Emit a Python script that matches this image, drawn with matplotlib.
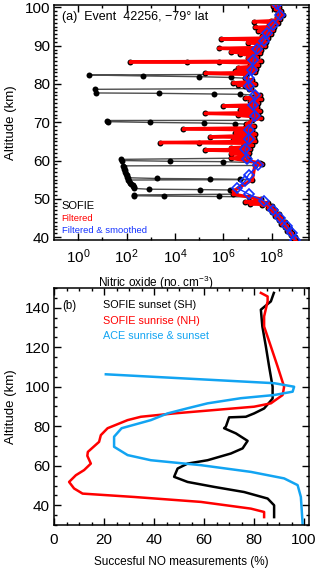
import numpy as np
import matplotlib
matplotlib.use("Agg")
import matplotlib.pyplot as plt
from matplotlib.ticker import FixedLocator, MultipleLocator, LogFormatterSciNotation, NullFormatter

plt.rcParams['font.family'] = ['Liberation Sans', 'DejaVu Sans']
plt.rcParams['mathtext.fontset'] = 'custom'
plt.rcParams['mathtext.rm'] = 'Liberation Sans'

# ---- panel (a): SOFIE event 42256, values as (altitude km, log10 NO) ----
main_alt = [101.0, 100.5, 100.0, 99.5, 99.0, 98.5, 98.0, 97.5, 97.0, 96.5, 96.0, 95.5, 95.0,
            94.5, 94.0, 93.5, 93.0, 92.5, 92.0, 91.5, 91.0, 90.5, 90.0, 89.5, 89.0, 88.5,
            88.0, 87.5, 87.0, 86.5, 86.0, 85.5, 85.0, 84.5, 84.0, 83.5, 83.0, 82.5, 81.5,
            81.0, 80.5, 80.0, 79.5, 79.0, 78.8, 77.0, 76.5, 76.0, 75.5, 75.0, 74.5, 74.0,
            73.5, 73.0, 72.5, 72.0, 71.5, 71.0, 70.5, 69.5, 69.0, 68.5, 68.0, 67.5, 67.0,
            66.5, 66.0, 65.5, 65.0, 64.5, 64.0, 63.5, 63.0, 62.5, 62.0, 61.5, 61.0, 60.6,
            59.4, 59.0, 58.7, 55.0, 52.0, 51.6, 51.2, 50.5, 50.0, 49.5, 49.0, 48.5, 48.0,
            47.5, 47.0, 46.5, 46.0, 45.5, 45.0, 44.5, 44.0, 43.5, 43.0, 42.5, 42.0, 41.5,
            41.0, 40.5, 40.0, 39.5, 39.0]
main_log = [8.20, 8.05, 8.30, 8.15, 8.40, 8.25, 8.45, 8.20, 8.35, 7.95, 8.25, 7.90, 8.10,
            7.80, 8.05, 7.70, 7.95, 7.60, 7.85, 7.50, 7.75, 7.45, 7.70, 7.30, 7.55, 7.20,
            7.50, 7.15, 7.40, 7.30, 7.55, 7.10, 7.45, 7.05, 7.35, 7.00, 7.30, 6.95, 6.90,
            7.20, 6.95, 7.30, 6.90, 7.15, 7.05, 7.50, 7.25, 7.55, 7.10, 7.45, 7.15, 7.40,
            7.10, 7.50, 7.20, 7.45, 7.15, 7.55, 7.20, 6.95, 7.25, 6.90, 7.20, 6.95, 7.30,
            6.85, 7.25, 6.95, 7.30, 6.90, 7.20, 6.80, 7.10, 6.75, 7.05, 6.85, 7.00, 6.30,
            7.50, 7.60, 7.30, 7.20, 6.40, 6.50, 6.40, 7.04, 7.55, 7.40, 7.85, 7.60, 8.00,
            7.85, 8.15, 8.00, 8.30, 8.15, 8.40, 8.30, 8.55, 8.40, 8.65, 8.55, 8.75, 8.65,
            8.85, 8.80, 8.95, 8.90, 9.00]

# spikes kept by the filter (shown red)
red_alt = [96.3, 94.8, 93.8, 91.8, 90.8, 89.3, 88.3, 87.8, 86.8, 85.85, 85.8, 85.7, 84.3,
           83.3, 82.8, 80.3, 79.8, 76.3, 74.3, 73.3, 72.3, 71.8, 68.3, 67.3, 66.2, 65.3,
           64.7, 64.6, 63.3, 62.7, 61.8, 49.2, 48.7]
red_log = [7.25, 7.30, 7.45, 5.90, 7.00, 5.80, 6.30, 6.70, 7.00, 4.50, 2.15, 5.80, 6.60,
           6.50, 5.25, 6.40, 6.60, 6.90, 6.00, 6.70, 5.25, 6.60, 4.35, 6.50, 5.45, 6.40,
           3.39, 5.00, 6.30, 5.25, 6.30, 6.90, 7.10]

# spikes removed by the filter (black only)
blk_alt = [82.35, 82.1, 81.9, 81.7, 78.6, 77.65, 77.55, 77.4, 77.3, 70.45, 70.15, 69.95,
           69.8, 69.65, 60.3, 60.0, 59.8, 59.7, 58.6, 58.2, 57.8, 57.4, 57.0, 56.6, 56.2,
           55.8, 55.5, 55.3, 55.2, 55.1, 54.9, 54.6, 54.2, 53.9, 53.6, 53.3, 53.0, 52.7,
           52.5, 52.4, 52.3, 51.0, 50.8, 50.7, 50.6]
blk_log = [0.43, 2.67, 5.00, 6.30, 0.70, 0.72, 3.32, 5.60, 6.70, 1.20, 1.21, 2.96,
           5.20, 6.50, 1.78, 1.80, 3.78, 6.00, 1.86, 1.88, 1.90, 1.92, 1.95, 1.97, 2.00,
           2.02, 2.04, 3.26, 5.45, 6.70, 2.07, 2.10, 2.12, 2.20, 2.25, 2.28, 2.30, 2.32,
           2.91, 5.04, 6.28, 2.29, 2.30, 3.53, 5.80]

# filtered & smoothed
smo_alt = [101.0, 98.0, 95.5, 93.4, 91.3, 89.2, 86.2, 83.7, 81.6, 79.5, 77.0, 74.4, 71.5,
           68.1, 65.6, 63.0, 60.5, 58.8, 56.3, 54.6, 52.9, 51.2, 49.5, 47.0, 44.9, 42.8,
           41.1, 39.3]
smo_log = [8.21, 8.35, 8.07, 7.82, 7.66, 7.38, 7.24, 7.18, 7.04, 7.04, 7.31, 7.24, 7.31,
           7.04, 7.04, 6.90, 6.97, 7.45, 7.04, 6.90, 6.56, 7.04, 7.66, 8.07, 8.35, 8.62,
           8.83, 8.95]

# ---- panel (b): successful NO measurements (%) vs altitude ----
sofie_ss_alt = [147.5, 143.2, 139.0, 130.5, 120.4, 110.2, 100.0, 94.0, 89.0, 86.5, 84.8,
                84.5, 79.8, 79.0, 76.4, 72.6, 68.8, 66.2, 62.8, 61.1, 58.6, 54.4, 51.8,
                49.3, 46.7, 43.4, 40.0, 34.0]
sofie_ss_pct = [87.9, 86.7, 82.7, 83.3, 84.7, 86.0, 87.4, 87.4, 84.0, 80.0, 76.7, 70.0,
                68.7, 68.0, 72.7, 77.4, 75.4, 70.7, 61.4, 53.4, 49.4, 48.0, 53.4, 64.0,
                76.0, 85.4, 88.0, 88.0]
sofie_sr_alt = [147.5, 145.7, 143.2, 135.6, 130.5, 120.4, 110.2, 100.0, 95.8, 91.6, 89.9,
                88.2, 86.5, 84.8, 83.1, 79.0, 75.5, 72.1, 67.0, 65.0, 61.1, 57.8, 55.2,
                51.8, 48.5, 45.9, 44.2, 41.7, 38.3, 36.6, 34.0]
sofie_sr_pct = [82.7, 85.4, 85.4, 84.0, 84.0, 86.7, 89.4, 92.0, 91.4, 86.7, 80.0, 64.0,
                48.0, 34.7, 29.4, 21.4, 18.7, 18.0, 13.5, 13.3, 14.7, 12.0, 8.7, 6.0, 8.0,
                11.4, 32.0, 58.7, 78.7, 84.0, 84.0]
ace_alt = [106.3, 101.8, 100.0, 97.5, 95.8, 94.2, 91.6, 89.1, 86.5, 83.1, 79.0, 74.7, 69.6,
           65.4, 62.8, 60.3, 56.9, 53.6, 50.2, 44.2, 30.5]
ace_pct = [20.7, 88.0, 96.0, 95.4, 88.0, 74.7, 61.4, 53.4, 45.4, 38.7, 27.0, 24.0, 24.0,
           29.4, 38.7, 58.7, 78.7, 92.0, 97.4, 98.7, 99.4]


def ordered(alts, logs):
    a = np.array(alts)
    v = np.array(logs)
    idx = np.argsort(-a, kind='stable')
    return a[idx], 10.0 ** v[idx]


def style(ax):
    ax.tick_params(which='both', direction='in', top=True, right=True, width=1.0)
    ax.tick_params(which='major', length=5, labelsize=11)
    ax.tick_params(which='minor', length=2.5)
    for s in ax.spines.values():
        s.set_linewidth(1.1)


fig = plt.figure(figsize=(3.2, 5.69), dpi=100)

# panel (a)
ax1 = fig.add_axes([0.169, 0.578, 0.797, 0.413])
b_alt, b_val = ordered(main_alt + red_alt + blk_alt, main_log + red_log + blk_log)
r_alt, r_val = ordered(main_alt + red_alt, main_log + red_log)
s_alt, s_val = ordered(smo_alt, smo_log)
ax1.plot(b_val, b_alt, '-', color='0.3', lw=1.0, zorder=1)
ax1.plot(b_val, b_alt, 'o', color='black', ms=4.3, mew=0, zorder=2)
ax1.plot(r_val, r_alt, '-', color='#ff0000', lw=2.4, zorder=3)
ax1.plot(r_val, r_alt, 'o', color='#ff0000', ms=2.4, mew=0, zorder=3)
ax1.plot(s_val, s_alt, '-', color='#1432ff', lw=1.0, zorder=4)
ax1.plot(s_val, s_alt, 'D', mfc='none', mec='#1432ff', ms=5.5, mew=1.2, zorder=4)
ax1.set_xscale('log')
ax1.set_xlim(1e-1, 3.5e9)
ax1.set_ylim(39.2, 100.6)
ax1.xaxis.set_major_locator(FixedLocator([1e0, 1e2, 1e4, 1e6, 1e8]))
ax1.xaxis.set_minor_locator(FixedLocator([1e1, 1e3, 1e5, 1e7, 1e9]))
ax1.xaxis.set_major_formatter(LogFormatterSciNotation())
ax1.xaxis.set_minor_formatter(NullFormatter())
ax1.yaxis.set_major_locator(MultipleLocator(10))
ax1.yaxis.set_minor_locator(MultipleLocator(1))
style(ax1)
ax1.tick_params(axis='x', pad=5)
ax1.tick_params(axis='y', pad=3)
ax1.set_ylabel('Altitude (km)', fontsize=9.5)
ax1.yaxis.set_label_coords(-0.145, 0.5)
ax1.set_xlabel('Nitric oxide (no. cm$^{-3}$)', fontsize=8.5)
ax1.xaxis.set_label_coords(0.4, -0.145)
ax1.text(0.031, 0.95, '(a)  Event  42256, \u221279\u00b0 lat', transform=ax1.transAxes,
         fontsize=9, va='center', ha='left')
ax1.text(0.03, 0.145, 'SOFIE', transform=ax1.transAxes, fontsize=8, va='center',
         color='black')
ax1.text(0.03, 0.094, 'Filtered', transform=ax1.transAxes, fontsize=6.8, va='center',
         color='#ff0000')
ax1.text(0.03, 0.040, 'Filtered & smoothed', transform=ax1.transAxes, fontsize=6.8,
         va='center', color='#1432ff')

# panel (b)
ax2 = fig.add_axes([0.169, 0.0773, 0.797, 0.4166])
ax2.plot(sofie_ss_pct, sofie_ss_alt, color='black', lw=1.8)
ax2.plot(sofie_sr_pct, sofie_sr_alt, color='#ff0000', lw=1.8)
ax2.plot(ace_pct, ace_alt, color='#12a4f2', lw=1.8)
ax2.set_xlim(0, 102)
ax2.set_ylim(30, 150)
ax2.xaxis.set_major_locator(MultipleLocator(20))
ax2.xaxis.set_minor_locator(MultipleLocator(5))
ax2.yaxis.set_major_locator(MultipleLocator(20))
ax2.yaxis.set_minor_locator(MultipleLocator(5))
style(ax2)
ax2.tick_params(axis='x', pad=6)
ax2.tick_params(axis='y', pad=3)
ax2.set_ylabel('Altitude (km)', fontsize=9.5)
ax2.yaxis.set_label_coords(-0.145, 0.5)
ax2.set_xlabel('Succesful NO measurements (%)', fontsize=8.5)
ax2.xaxis.set_label_coords(0.5, -0.13)
ax2.text(0.031, 0.924, '(b)', transform=ax2.transAxes, fontsize=8.3, va='center')
ax2.text(0.192, 0.928, 'SOFIE sunset (SH)', transform=ax2.transAxes, fontsize=7.8,
         va='center', color='black')
ax2.text(0.192, 0.862, 'SOFIE sunrise (NH)', transform=ax2.transAxes, fontsize=7.8,
         va='center', color='#ff0000')
ax2.text(0.192, 0.797, 'ACE sunrise & sunset', transform=ax2.transAxes, fontsize=7.8,
         va='center', color='#12a4f2')

fig.savefig('out.png', dpi=100)
